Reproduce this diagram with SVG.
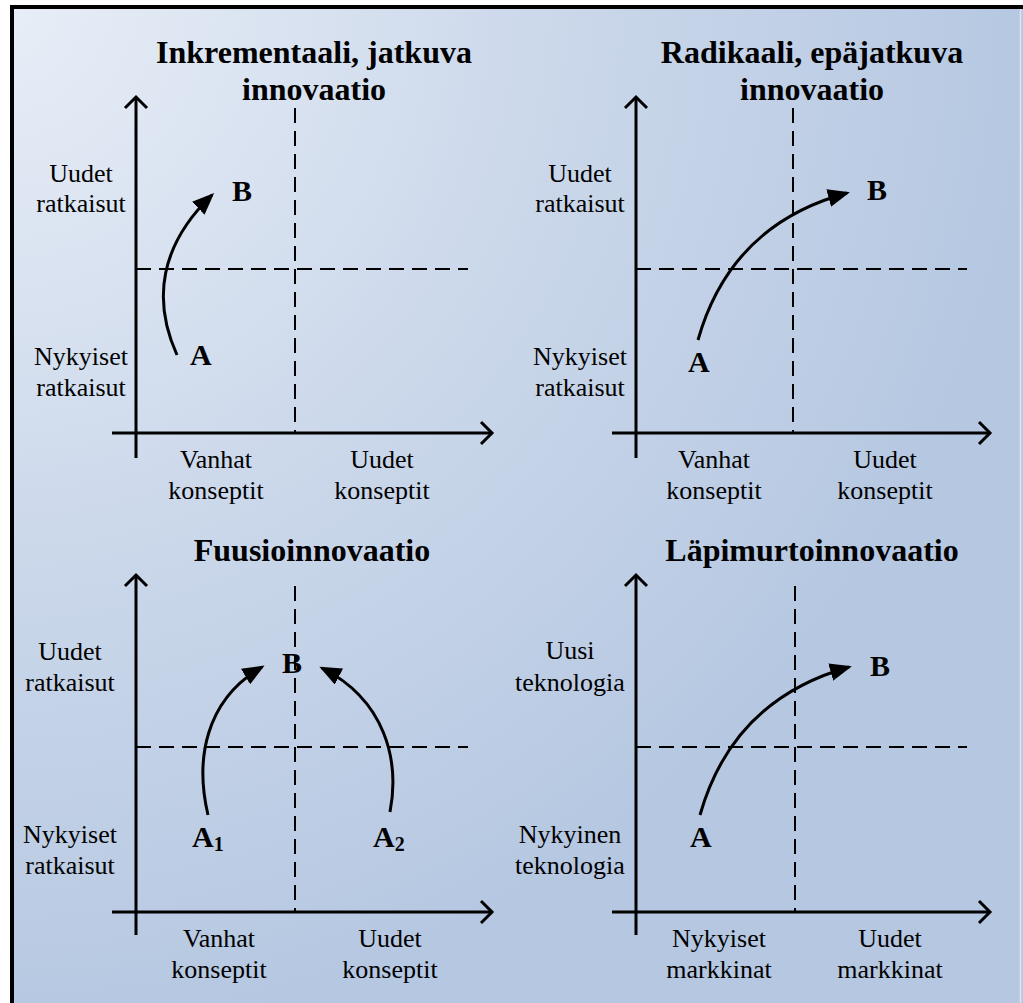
<svg xmlns="http://www.w3.org/2000/svg" width="1023" height="1003" viewBox="0 0 1023 1003">
  <defs>
    <radialGradient id="bg" cx="0" cy="0" r="1050" gradientUnits="userSpaceOnUse">
      <stop offset="0" stop-color="#e8eef7"/>
      <stop offset="0.55" stop-color="#cad7ea"/>
      <stop offset="1" stop-color="#b5c7e1"/>
    </radialGradient>
    <marker id="head" markerUnits="userSpaceOnUse" viewBox="0 0 22 18" refX="19" refY="9" markerWidth="22" markerHeight="18" orient="auto">
      <path d="M0,0 L22,9 L0,18 z" fill="#000"/>
    </marker>
  </defs>
  <style>
    .axis { fill: none; stroke: #000; stroke-width: 3; }
    .chev { fill: none; stroke: #000; stroke-width: 3; stroke-linejoin: miter; }
    .dash { fill: none; stroke: #000; stroke-width: 2; stroke-dasharray: 15 8; }
    .flow { fill: none; stroke: #000; stroke-width: 3; marker-end: url(#head); }
    .title { font-family: "Liberation Serif", "Times New Roman", serif; font-weight: bold; font-size: 32px; text-anchor: middle; fill: #000; }
    .lbl { font-family: "Liberation Serif", "Times New Roman", serif; font-size: 26px; text-anchor: middle; fill: #000; }
    .pt { font-family: "Liberation Serif", "Times New Roman", serif; font-weight: bold; font-size: 30px; fill: #000; }
    .sub { font-size: 20px; }
  </style>

  <!-- backdrop and frame -->
  <rect x="12" y="7" width="1011" height="996" fill="url(#bg)"/>
  <line x1="1020.5" y1="9" x2="1020.5" y2="1003" stroke="#dde5f0" stroke-width="1.5"/>
  <path d="M12,1003 L12,7 L1023,7" fill="none" stroke="#000" stroke-width="4"/>

  <!-- axes, quadrant dividers and movement arrows -->
  <g id="connectors">
    <!-- top-left -->
    <line class="axis" x1="136" y1="98" x2="136" y2="458"/>
    <polyline class="chev" points="125,108 136,97 147,108"/>
    <line class="axis" x1="112" y1="433" x2="491" y2="433"/>
    <polyline class="chev" points="481,422 492,433 481,444"/>
    <line class="dash" x1="295" y1="108" x2="295" y2="433"/>
    <line class="dash" x1="136" y1="269" x2="468" y2="269"/>
    <path class="flow" d="M177,355 C152,300 160,245 212,195"/>

    <!-- top-right -->
    <line class="axis" x1="636" y1="98" x2="636" y2="458"/>
    <polyline class="chev" points="625,108 636,97 647,108"/>
    <line class="axis" x1="612" y1="433" x2="989" y2="433"/>
    <polyline class="chev" points="979,422 990,433 979,444"/>
    <line class="dash" x1="793" y1="108" x2="793" y2="433"/>
    <line class="dash" x1="636" y1="269" x2="967" y2="269"/>
    <path class="flow" d="M698,340 C715,280 755,218 847,193"/>

    <!-- bottom-left -->
    <line class="axis" x1="136" y1="576" x2="136" y2="935"/>
    <polyline class="chev" points="125,586 136,575 147,586"/>
    <line class="axis" x1="112" y1="912" x2="491" y2="912"/>
    <polyline class="chev" points="481,901 492,912 481,923"/>
    <line class="dash" x1="295" y1="586" x2="295" y2="912"/>
    <line class="dash" x1="136" y1="747" x2="468" y2="747"/>
    <path class="flow" d="M208,815 C195,760 205,700 262,667"/>
    <path class="flow" d="M390,812 C400,760 385,700 322,668"/>

    <!-- bottom-right -->
    <line class="axis" x1="636" y1="576" x2="636" y2="935"/>
    <polyline class="chev" points="625,586 636,575 647,586"/>
    <line class="axis" x1="612" y1="912" x2="989" y2="912"/>
    <polyline class="chev" points="979,901 990,912 979,923"/>
    <line class="dash" x1="795" y1="586" x2="795" y2="912"/>
    <line class="dash" x1="636" y1="747" x2="967" y2="747"/>
    <path class="flow" d="M700,815 C717,755 757,693 849,667"/>
  </g>

  <!-- incremental -->
  <g id="incremental">
    <text class="title" x="314" y="63">Inkrementaali, jatkuva</text>
    <text class="title" x="314" y="100">innovaatio</text>
    <text class="lbl" x="81" y="182">Uudet</text>
    <text class="lbl" x="81" y="212">ratkaisut</text>
    <text class="lbl" x="81" y="365">Nykyiset</text>
    <text class="lbl" x="81" y="396">ratkaisut</text>
    <text class="lbl" x="216" y="468">Vanhat</text>
    <text class="lbl" x="216" y="499">konseptit</text>
    <text class="lbl" x="382" y="468">Uudet</text>
    <text class="lbl" x="382" y="499">konseptit</text>
    <text class="pt" x="232" y="201">B</text>
    <text class="pt" x="190" y="365">A</text>
  </g>

  <!-- radical -->
  <g id="radical">
    <text class="title" x="812" y="63">Radikaali, epäjatkuva</text>
    <text class="title" x="812" y="100">innovaatio</text>
    <text class="lbl" x="580" y="182">Uudet</text>
    <text class="lbl" x="580" y="212">ratkaisut</text>
    <text class="lbl" x="580" y="365">Nykyiset</text>
    <text class="lbl" x="580" y="396">ratkaisut</text>
    <text class="lbl" x="714" y="468">Vanhat</text>
    <text class="lbl" x="714" y="499">konseptit</text>
    <text class="lbl" x="885" y="468">Uudet</text>
    <text class="lbl" x="885" y="499">konseptit</text>
    <text class="pt" x="867" y="200">B</text>
    <text class="pt" x="688" y="372">A</text>
  </g>

  <!-- fusion -->
  <g id="fusion">
    <text class="title" x="312" y="561">Fuusioinnovaatio</text>
    <text class="lbl" x="70" y="660">Uudet</text>
    <text class="lbl" x="70" y="691">ratkaisut</text>
    <text class="lbl" x="70" y="843">Nykyiset</text>
    <text class="lbl" x="70" y="874">ratkaisut</text>
    <text class="lbl" x="219" y="947">Vanhat</text>
    <text class="lbl" x="219" y="978">konseptit</text>
    <text class="lbl" x="390" y="947">Uudet</text>
    <text class="lbl" x="390" y="978">konseptit</text>
    <text class="pt" x="282" y="673">B</text>
    <text class="pt" x="192" y="847">A<tspan class="sub" dy="4">1</tspan></text>
    <text class="pt" x="373" y="847">A<tspan class="sub" dy="4">2</tspan></text>
  </g>

  <!-- breakthrough -->
  <g id="breakthrough">
    <text class="title" x="812" y="561">Läpimurtoinnovaatio</text>
    <text class="lbl" x="570" y="659">Uusi</text>
    <text class="lbl" x="570" y="691">teknologia</text>
    <text class="lbl" x="570" y="843">Nykyinen</text>
    <text class="lbl" x="570" y="874">teknologia</text>
    <text class="lbl" x="719" y="947">Nykyiset</text>
    <text class="lbl" x="719" y="978">markkinat</text>
    <text class="lbl" x="890" y="947">Uudet</text>
    <text class="lbl" x="890" y="978">markkinat</text>
    <text class="pt" x="870" y="676">B</text>
    <text class="pt" x="690" y="847">A</text>
  </g>
</svg>
